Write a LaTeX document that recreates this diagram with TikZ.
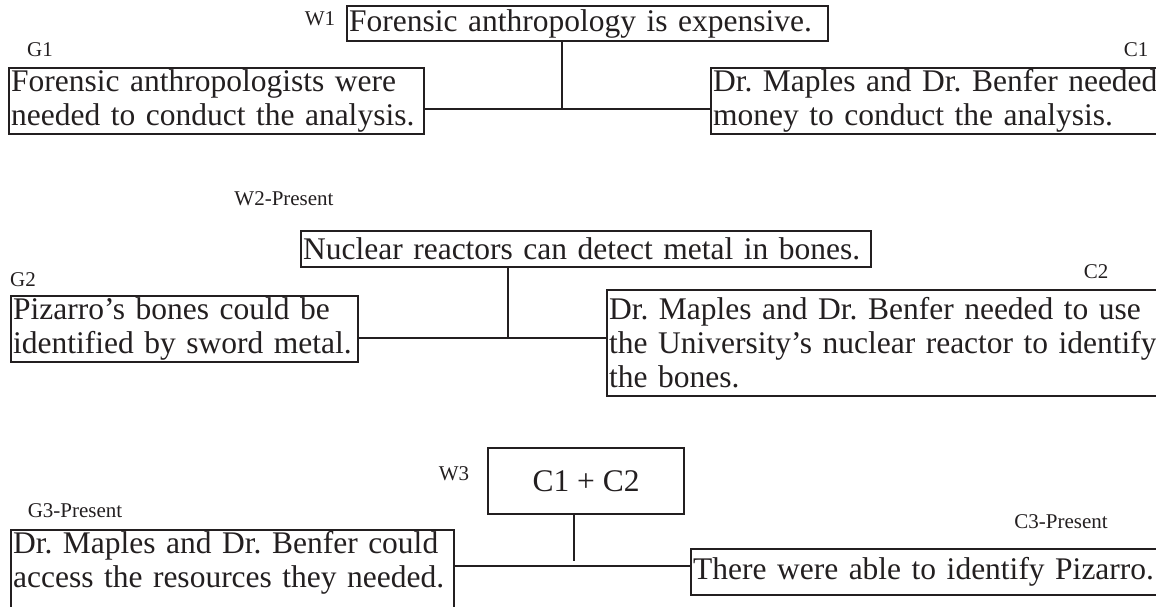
\documentclass[tikz,border=0pt]{standalone}
\usepackage{fontspec}
\setmainfont{Liberation Serif}
\definecolor{ink}{RGB}{35,31,32}
\begin{document}
\begin{tikzpicture}[x=1pt,y=-1pt,
  claim/.style 2 args={draw=ink, line width=2.2pt, anchor=north west,
    inner ysep=1pt, inner xsep=2pt, align=left, text=ink,
    text width=#1pt, minimum height=#2pt,
    font=\fontsize{31.5}{34}\selectfont\frenchspacing},
  tag/.style={font=\fontsize{21}{21}\selectfont, text=ink, inner sep=0pt},
  link/.style={draw=ink, line width=2.4pt}]
\useasboundingbox (0,0) rectangle (1156,606);
\clip (0,0) rectangle (1156,606);

% ---- first argument: warrant W1 ----
\node[tag] (tW1) at (320,19) {W1};
\node[claim={477}{35}] (W1) at (346,5) {\mbox{Forensic anthropology is expensive.}};
\node[tag] (tG1) at (40,50) {G1};
\node[claim={411}{66}] (G1) at (8,67) {\mbox{Forensic anthropologists were}\\\mbox{needed to conduct the analysis.}};
\node[tag] (tC1) at (1136,50) {C1};
\node[claim={460}{66}] (C1) at (710,67) {\mbox{Dr. Maples and Dr. Benfer needed}\\\mbox{money to conduct the analysis.}};
\coordinate (j1) at (562,109);
\draw[link] (W1.south -| j1) -- (j1);
\draw[link] (G1.east |- j1) -- (C1.west |- j1);

% ---- second argument: warrant W2 ----
\node[tag] (tW2) at (284,199) {W2-Present};
\node[claim={566}{36}] (W2) at (300,230) {\mbox{Nuclear reactors can detect metal in bones.}};
\node[tag] (tG2) at (23,280) {G2};
\node[claim={343}{66}] (G2) at (10,295) {\mbox{Pizarro’s bones could be}\\\mbox{identified by sword metal.}};
\node[tag] (tC2) at (1096,272) {C2};
\node[claim={560}{106}] (C2) at (606,289) {\mbox{Dr. Maples and Dr. Benfer needed to use}\\\mbox{the University’s nuclear reactor to identify}\\\mbox{the bones.}};
\coordinate (j2) at (508,338);
\draw[link] (W2.south -| j2) -- (j2);
\draw[link] (G2.east |- j2) -- (C2.west |- j2);

% ---- third argument: warrant W3 ----
\node[tag] (tW3) at (454,474) {W3};
\node[draw=ink, line width=2.2pt, anchor=north west, minimum width=196pt,
  minimum height=66pt, inner sep=0pt, text=ink,
  font=\fontsize{31.5}{34}\selectfont] (W3) at (487,447) {C1 + C2};
\node[tag] (tG3) at (75,511) {G3-Present};
% the last box runs on past the lower edge of the page
\node[claim={439}{60}] (G3) at (10,529) {\mbox{Dr. Maples and Dr. Benfer could}\\\mbox{access the resources they needed.}\\\mbox{}};
\node[tag] (tC3) at (1061,522) {C3-Present};
\node[claim={470}{46}] (C3) at (690,548) {\mbox{There were able to identify Pizarro.}};
\coordinate (j3) at (574,566);
\draw[link] (W3.south -| j3) -- ([yshift=5pt]j3);
\draw[link] (G3.east |- j3) -- (C3.west |- j3);
\end{tikzpicture}
\end{document}
